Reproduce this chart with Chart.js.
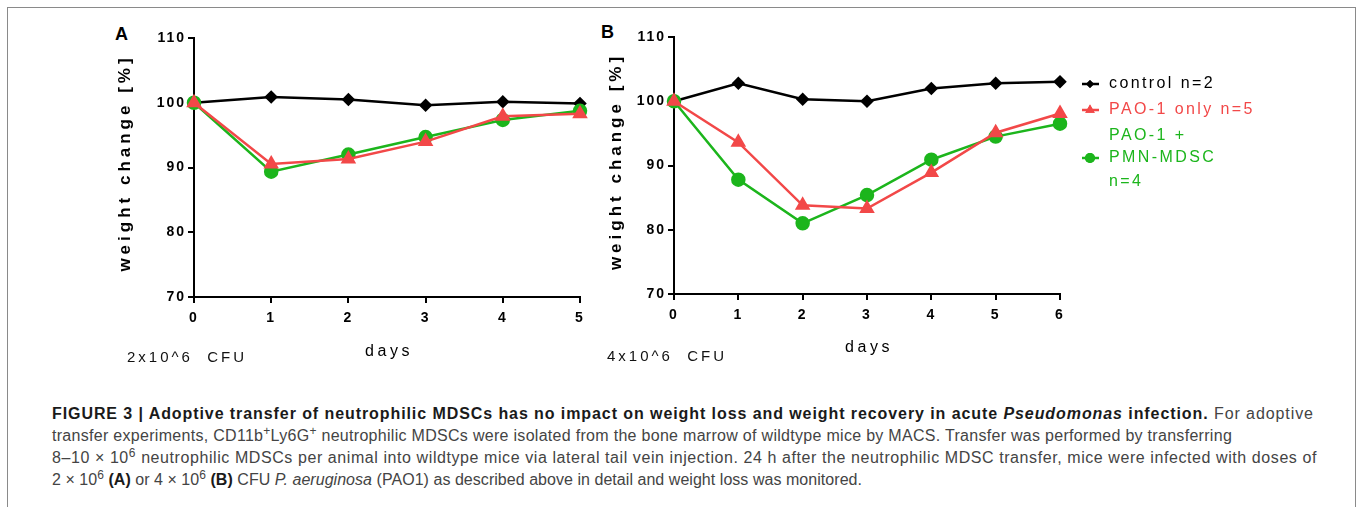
<!DOCTYPE html>
<html>
<head>
<meta charset="utf-8">
<script src="https://cdn.jsdelivr.net/npm/chart.js@4.4.0/dist/chart.umd.min.js"></script>
<style>
  html, body { margin: 0; padding: 0; background: #fff; }
  body { width: 1357px; height: 507px; position: relative; overflow: hidden; font-family: "Liberation Sans", Arial, sans-serif; }
  .frame { position: absolute; left: 7px; top: 7px; width: 1349px; height: 540px; border: 1px solid #8a8a8a; box-sizing: border-box; }
  .wrap { position: absolute; height: 350px; top: 20px; }
  #wrapA { left: 100px; width: 500px; }
  #wrapB { left: 590px; width: 760px; }
  .letter { position: absolute; font-weight: bold; font-size: 18px; line-height: 18px; color: #000; }
  .dose { position: absolute; font-size: 15px; line-height: 15px; letter-spacing: 3px; white-space: pre; color: #111; }
  .caption { position: absolute; left: 52px; top: 403px; font-family: "Liberation Sans", Arial, sans-serif; font-size: 16px; line-height: 22px; color: #444; white-space: nowrap; }
  .caption div span { display: inline-block; }
  .caption b { color: #1a1a1a; }
  .caption sup { font-size: 12px; line-height: 0; }
</style>
</head>
<body>
<div class="frame"></div>
<div class="letter" style="left:115px; top:25px;">A</div>
<div class="letter" style="left:601px; top:23px;">B</div>
<div class="wrap" id="wrapA"><canvas id="chartA"></canvas></div>
<div class="wrap" id="wrapB"><canvas id="chartB"></canvas></div>
<div class="dose" style="left:127px; top:349px;">2x10^6  CFU</div>
<div class="dose" style="left:607px; top:348px;">4x10^6  CFU</div>
<div class="caption">
  <div><span data-w="1262"><b>FIGURE 3 | Adoptive transfer of neutrophilic MDSCs has no impact on weight loss and weight recovery in acute <i>Pseudomonas</i> infection.</b> For adoptive</span></div>
  <div><span data-w="1180">transfer experiments, CD11b<sup>+</sup>Ly6G<sup>+</sup> neutrophilic MDSCs were isolated from the bone marrow of wildtype mice by MACS. Transfer was performed by transferring</span></div>
  <div><span data-w="1265">8–10 × 10<sup>6</sup> neutrophilic MDSCs per animal into wildtype mice via lateral tail vein injection. 24 h after the neutrophilic MDSC transfer, mice were infected with doses of</span></div>
  <div><span data-w="810">2 × 10<sup>6</sup> <b>(A)</b> or 4 × 10<sup>6</sup> <b>(B)</b> CFU <i>P. aeruginosa</i> (PAO1) as described above in detail and weight loss was monitored.</span></div>
</div>
<script>
// panel A: 2x10^6 CFU
const daysA = [0, 1, 2, 3, 4, 5];
const controlA = [100, 100.9, 100.5, 99.6, 100.15, 99.9];
const paoOnlyA = [100, 90.55, 91.3, 94.0, 97.9, 98.3];
const paoMdscA = [100, 89.35, 92.0, 94.7, 97.35, 98.75];

// panel B: 4x10^6 CFU
const daysB = [0, 1, 2, 3, 4, 5, 6];
const controlB = [100, 102.8, 100.3, 100.0, 102.0, 102.8, 103.05];
const paoOnlyB = [100, 93.6, 83.8, 83.3, 88.9, 95.1, 98.1];
const paoMdscB = [100, 87.8, 81.0, 85.4, 90.9, 94.5, 96.5];

const yTicks = [70, 80, 90, 100, 110];
const legendLabels = [['control n=2'], ['PAO-1 only n=5'], ['PAO-1 +', 'PMN-MDSC', 'n=4']];

const FONT = '"Liberation Sans", Arial, sans-serif';
const BLACK = '#000000';
const RED = '#f24848';
const GREEN = '#1cb51c';

// stretch each caption line to the width it has in the figure
document.querySelectorAll('.caption span[data-w]').forEach(el => {
  const target = +el.dataset.w;
  const n = el.textContent.length;
  const extra = (target - el.getBoundingClientRect().width) / n;
  if (extra > 0) el.style.letterSpacing = extra.toFixed(3) + 'px';
});

function points(days, vals) {
  return days.map((d, i) => ({ x: d, y: vals[i] }));
}

function makeDatasets(days, control, paoOnly, paoMdsc) {
  return [
    { label: legendLabels[0].join(' '), data: points(days, control), borderColor: BLACK, backgroundColor: BLACK,
      pointStyle: 'rectRot', pointRadius: 5, borderWidth: 2.5, order: 3 },
    { label: legendLabels[2].join(' '), data: points(days, paoMdsc), borderColor: GREEN, backgroundColor: GREEN,
      pointStyle: 'circle', pointRadius: 6, borderWidth: 2.5, order: 2 },
    { label: legendLabels[1].join(' '), data: points(days, paoOnly), borderColor: RED, backgroundColor: RED,
      pointStyle: 'triangle', pointRadius: 6.5, borderWidth: 2.5, order: 1 }
  ];
}

// titles, legend and letter spacing drawn here
const figText = {
  id: 'figText',
  beforeLayout(chart) { chart.ctx.letterSpacing = '2px'; },
  beforeDraw(chart) { chart.ctx.letterSpacing = '2px'; },
  afterDraw(chart, args, opts) {
    const ctx = chart.ctx;
    ctx.save();
    ctx.fillStyle = '#000';
    ctx.textAlign = 'center';
    ctx.textBaseline = 'middle';

    // y title
    ctx.font = 'bold 17px ' + FONT;
    ctx.letterSpacing = '4px';
    ctx.save();
    ctx.translate(opts.yTitle[0], opts.yTitle[1]);
    ctx.rotate(-Math.PI / 2);
    ctx.fillText('weight change [%]', 0, 0);
    ctx.restore();

    // x title
    ctx.font = '16px ' + FONT;
    ctx.letterSpacing = '3.5px';
    ctx.fillText('days', opts.xTitle[0], opts.xTitle[1]);

    if (opts.legend) {
      const lg = opts.legend;
      const order = [0, 2, 1];
      const markerRow = [0, 1, 3];
      ctx.font = '16px ' + FONT;
      ctx.letterSpacing = '2.4px';
      ctx.textAlign = 'left';
      let row = 0;
      legendLabels.forEach((lines, k) => {
        const ds = chart.data.datasets[order[k]];
        const my = lg.y + lg.rows[markerRow[k]];
        ctx.strokeStyle = ds.borderColor;
        ctx.lineWidth = 2.5;
        ctx.beginPath();
        ctx.moveTo(lg.x - 8, my);
        ctx.lineTo(lg.x + 9, my);
        ctx.stroke();
        ctx.fillStyle = ds.borderColor;
        ctx.beginPath();
        Chart.helpers.drawPoint(ctx, { pointStyle: ds.pointStyle, radius: ds.pointRadius - 1, borderWidth: 0, rotation: 0 }, lg.x, my);
        ctx.fill();
        lines.forEach(t => {
          ctx.fillText(t, lg.x + 19, lg.y + lg.rows[row]);
          row++;
        });
      });
    }
    ctx.restore();
  }
};

function makeChart(id, days, data, cfg) {
  return new Chart(document.getElementById(id), {
    type: 'line',
    data: { datasets: data },
    plugins: [figText],
    options: {
      responsive: true,
      maintainAspectRatio: false,
      animation: false,
      layout: { padding: { top: cfg.padTop, right: cfg.padRight, bottom: 0, left: 0 } },
      elements: { line: { tension: 0 }, point: { borderWidth: 1 } },
      datasets: { line: { clip: false } },
      plugins: {
        legend: { display: false },
        tooltip: { enabled: false },
        figText: { yTitle: cfg.yTitle, xTitle: cfg.xTitle, legend: cfg.legend }
      },
      scales: {
        x: {
          type: 'linear',
          min: days[0],
          max: days[days.length - 1],
          afterBuildTicks: s => { s.ticks = days.map(v => ({ value: v })); },
          afterFit: s => { s.height = cfg.xHeight; },
          ticks: { color: '#000', font: { family: FONT, size: 14, weight: 'bold' }, padding: 7, maxRotation: 0 },
          grid: { drawOnChartArea: false, drawTicks: true, tickLength: 6, color: '#000', lineWidth: 2 },
          border: { display: true, color: '#000', width: 2 }
        },
        y: {
          min: yTicks[0],
          max: yTicks[yTicks.length - 1],
          afterBuildTicks: s => { s.ticks = yTicks.map(v => ({ value: v })); },
          afterFit: s => { s.width = cfg.yWidth; },
          ticks: { color: '#000', font: { family: FONT, size: 14, weight: 'bold' }, padding: 2 },
          grid: { drawOnChartArea: false, drawTicks: true, tickLength: 6, color: '#000', lineWidth: 2 },
          border: { display: true, color: '#000', width: 2 }
        }
      }
    }
  });
}

makeChart('chartA', daysA, makeDatasets(daysA, controlA, paoOnlyA, paoMdscA), {
  padTop: 18, padRight: 20, xHeight: 73, yWidth: 94,
  yTitle: [25.5, 143], xTitle: [289, 332]
});

makeChart('chartB', daysB, makeDatasets(daysB, controlB, paoOnlyB, paoMdscB), {
  padTop: 17, padRight: 290, xHeight: 76, yWidth: 84,
  yTitle: [26.5, 141.5], xTitle: [279, 328],
  legend: { x: 500, y: 64, rows: [0, 26, 52, 74, 98] }
});
</script>
</body>
</html>
